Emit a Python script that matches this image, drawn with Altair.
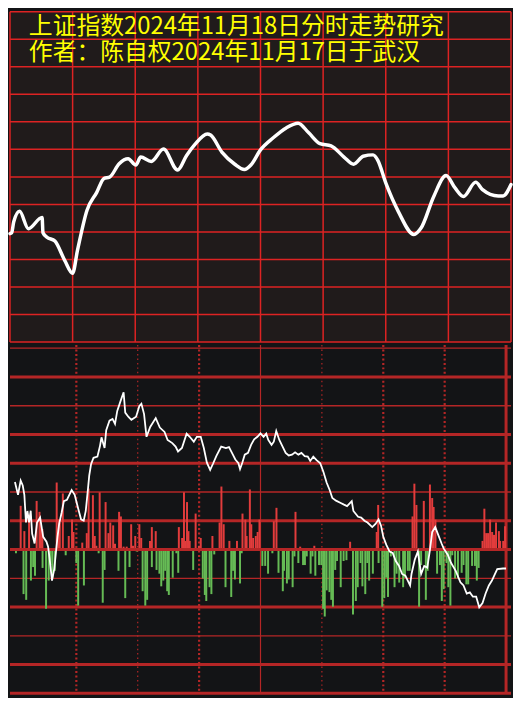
import altair as alt
import pandas as pd

TITLE_1 = "上证指数2024年11月18日分时走势研究"
TITLE_2 = "作者：陈自权2024年11月17日于武汉"

# ---- upper panel: index curve (minute of session, level in grid units*10)
top_minute = [0, 0.8, 1.8, 4.6, 8.8, 15.4, 15.8, 17.7, 21.5, 26.2, 30, 32.3, 36.9, 41.5, 45.1,
              47.7, 52.3, 56.6, 60.3, 62.6, 67.7, 73.5, 80.3, 84.6, 88.5, 94.5, 96.1, 101.5,
              107.7, 112.3, 115.4, 120, 126.1, 132.3, 138, 143.1, 148.5, 153.8, 160, 164.6,
              169.2, 173.9, 176.2, 180, 186.1, 193.5, 196.9, 203.1, 208.9, 213.1, 217.2,
              223.1, 226.2, 233.9, 236.2, 240]
top_level = [39.4, 39.7, 43.7, 47.5, 41.2, 45.3, 39.7, 38.1, 36.7, 29.7, 25.0, 33.2, 47.9, 54.3,
             59.5, 59.9, 64.8, 66.6, 64.3, 67.2, 65.6, 70.1, 62.5, 67.8, 71.7, 75.6, 75.2, 69.0,
             64.6, 62.7, 64.3, 69.8, 74.2, 77.8, 79.5, 76.0, 72.1, 71.3, 67.2, 64.6, 67.5, 68.0,
             66.0, 57.8, 47.3, 39.1, 41.4, 53.1, 60.5, 56.1, 52.9, 58.1, 55.5, 53.1, 53.1, 57.2]

# ---- lower panel: white indicator line
sub_minute = [0, 1.5, 2.8, 3.8, 4.6, 5.4, 6.1, 6.9, 7.7, 8.4,
              9.6, 10.8, 12.3, 13.8, 15.4, 16.2, 16.9, 18.1, 19.2, 20.0,
              20.8, 21.6, 22.8, 23.9, 25.4, 27.7, 29.2, 30.8, 32.3, 33.6,
              34.6, 35.7, 36.3, 37.2, 38.4, 40.3, 41.5, 42.3, 43.8, 44.6,
              46.2, 47.7, 48.9, 50.0, 51.6, 53.1, 53.9, 55.4, 56.9, 59.2,
              60.8, 61.8, 63.1, 64.3, 66.1, 68.8, 70.8, 73.1, 74.6, 76.9,
              78.5, 79.7, 81.6, 83.9, 85.4, 87.4, 88.9, 90.8, 92.3, 93.8,
              95.4, 96.9, 98.4, 100.8, 103.1, 104.6, 106.5, 107.7, 109.2, 110.0,
              111.1, 112.3, 113.9, 115.4, 116.9, 118.5, 120.0, 121.5, 122.8, 123.8,
              125.4, 126.5, 127.7, 129.2, 130.8, 132.3, 133.8, 135.4, 136.9, 138.5,
              140.0, 141.6, 143.1, 144.3, 145.8, 147.4, 149.2, 150.8, 152.3, 153.8,
              155.1, 156.9, 159.2, 160.8, 162.3, 164.6, 165.4, 167.7, 169.2, 170.8,
              172.3, 174.6, 176.2, 177.7, 178.9, 180.0, 181.5, 183.1, 184.6, 186.1,
              187.7, 189.2, 190.8, 193.1, 193.8, 195.4, 196.9, 198.5, 200.0, 201.5,
              202.8, 203.9, 205.4, 206.9, 208.5, 209.5, 211.5, 213.1, 215.4, 217.7,
              219.2, 220.8, 222.3, 223.8, 225.4, 226.9, 228.5, 230.0, 231.6, 233.1,
              234.6, 235.7, 238.5, 240.0]
sub_value = [23.5, 19.0, 24.0, 22.3, 19.0, 9.4, 13.4, 9.4, 13.5, 5.5,
             2.1, 9.4, 11.1, 4.4, 2.7, 1.0, -2.9, -10.8, -6.8, -1.2,
             4.4, 8.9, 12.8, 16.8, 17.3, 20.7, 19.0, 14.5, 10.5, 10.0,
             13.4, 21.2, 25.7, 29.7, 31.9, 32.3, 35.8, 39.0, 35.3, 41.5,
             44.8, 45.4, 43.7, 48.2, 51.6, 54.7, 47.6, 46.2, 45.1, 46.2,
             49.9, 50.7, 47.1, 39.2, 42.6, 45.7, 42.4, 40.9, 38.1, 37.0,
             35.8, 34.1, 35.3, 40.3, 39.2, 37.5, 39.2, 39.2, 35.3, 30.2,
             27.7, 30.0, 32.5, 35.8, 35.3, 35.6, 33.0, 31.3, 30.0, 28.0,
             30.2, 33.0, 33.6, 36.4, 38.3, 39.2, 40.4, 39.2, 40.3, 38.1,
             36.4, 37.5, 41.2, 38.1, 35.8, 33.6, 32.7, 33.0, 33.8, 33.0,
             33.6, 32.5, 32.3, 30.8, 32.3, 31.1, 30.0, 26.9, 23.3, 20.7,
             17.9, 17.0, 16.2, 15.6, 15.1, 16.8, 13.4, 11.4, 11.1, 10.0,
             9.4, 7.8, 8.9, 10.5, 8.3, 4.4, 1.6, -0.7, -1.2, -4.0,
             -5.7, -8.5, -9.1, -12.5, -8.5, -3.5, -0.7, -8.5, -5.7, -6.3,
             -0.1, 6.1, 7.8, 5.0, 2.1, 0.4, -1.8, -4.6, -7.4, -11.4,
             -12.5, -15.3, -14.9, -16.4, -16.4, -20.1, -18.6, -15.3, -12.5, -10.8,
             -8.5, -6.8, -6.6, -6.6]

# ---- lower panel: red (up) and green (down) bars
up_minute = [2.8, 4.6, 6.9, 10.6, 12.0, 12.7, 13.4, 20.4, 21.4, 21.9,
             23.4, 26.3, 27.9, 28.6, 32.9, 35.1, 36.0, 38.1, 39.0, 39.8,
             41.4, 44.3, 45.7, 46.6, 48.0, 48.9, 50.9, 51.8, 53.1, 54.6,
             56.8, 57.7, 58.8, 60.8, 61.7, 66.0, 66.9, 68.8, 80.1, 81.7,
             82.6, 83.2, 84.1, 84.8, 85.4, 88.3, 89.9, 90.8, 96.5, 100.0,
             100.9, 102.0, 104.8, 108.5, 111.2, 112.6, 113.2, 114.8, 115.5, 116.4,
             117.7, 118.6, 119.5, 126.5, 127.8, 137.1, 139.4, 146.3, 163.8, 176.8,
             177.5, 194.3, 195.2, 196.2, 199.8, 202.8, 203.9, 204.6, 205.5, 228.5,
             229.4, 230.3, 231.2, 232.2, 233.2, 234.1, 235.1, 236.5, 237.1, 238.6,
             239.5]
up_value = [15.2, 6.4, 12.1, 16.9, 13.1, 9.4, 7.1, 23.3, 10.4, 9.4,
            19.5, 4.7, 10.4, 6.1, 2.4, 5.7, 21.2, 18.9, 4.7, 1.3,
            19.9, 16.5, 5.7, 9.4, 8.4, 2.0, 13.1, 11.5, 1.0, 1.0,
            8.8, 1.3, 4.7, 8.8, 4.0, 3.0, 7.8, 6.4, 7.8, 4.0,
            19.9, 3.0, 16.5, 6.4, 3.0, 12.5, 1.3, 4.0, 4.7, 9.4,
            21.9, 8.8, 3.0, 3.0, 12.5, 10.4, 4.7, 20.9, 8.8, 4.0,
            4.7, 6.1, 10.4, 9.8, 14.5, 13.1, 1.0, 1.3, 2.7, 6.1,
            15.5, 11.5, 22.9, 15.5, 16.9, 22.6, 17.9, 14.8, 10.4, 3.0,
            14.2, 5.7, 5.7, 10.4, 6.1, 5.1, 9.4, 6.4, 3.0, 3.0,
            8.1]
down_minute = [0.5, 4.2, 5.5, 7.8, 8.9, 9.8, 13.5, 15.2, 16.5, 17.4,
               18.3, 19.5, 24.8, 30.0, 30.9, 33.7, 40.9, 42.9, 43.8, 50.6,
               53.9, 56.0, 59.5, 62.4, 63.7, 64.6, 66.9, 69.2, 70.6, 71.5,
               72.5, 73.4, 74.4, 75.2, 77.1, 78.9, 79.8, 87.1, 91.8, 92.8,
               93.5, 95.1, 96.0, 97.4, 102.9, 105.7, 106.6, 107.5, 110.0, 110.8,
               120.9, 122.3, 123.7, 125.8, 128.8, 130.9, 131.5, 132.9, 133.8, 135.7,
               136.6, 138.5, 140.8, 141.7, 142.6, 144.5, 145.4, 146.8, 148.6, 149.7,
               150.6, 151.4, 152.3, 153.7, 154.6, 155.4, 156.5, 157.4, 159.2, 160.6,
               162.0, 165.2, 166.6, 167.5, 168.9, 169.8, 171.2, 172.2, 173.1, 174.9,
               177.7, 179.5, 180.5, 181.4, 182.3, 183.7, 185.5, 186.5, 187.8, 189.7,
               190.6, 192.0, 192.9, 197.5, 198.5, 200.8, 201.7, 206.3, 207.7, 208.6,
               209.5, 210.9, 211.8, 212.8, 213.7, 215.1, 216.5, 218.3, 219.2, 220.6,
               221.5, 223.4, 224.8, 225.7, 226.6]
down_value = [-1.3, -15.5, -17.5, -10.8, -6.1, -9.1, -6.4, -20.6, -10.8, -5.4,
              -9.8, -7.4, -2.0, -4.7, -19.5, -12.5, -1.3, -18.5, -7.1, -7.4,
              -16.9, -6.1, -0.7, -14.5, -19.5, -17.5, -6.1, -7.1, -8.4, -12.8,
              -10.8, -7.4, -14.5, -15.8, -9.8, -1.3, -8.1, -7.1, -10.1, -15.8,
              -17.9, -13.1, -15.5, -1.7, -13.1, -16.5, -7.4, -10.4, -11.8, -1.3,
              -5.7, -5.7, -8.4, -1.3, -8.1, -14.5, -7.4, -11.8, -10.4, -13.1,
              -2.4, -4.7, -5.4, -5.4, -2.4, -8.4, -2.4, -9.1, -5.4, -5.4,
              -20.6, -23.3, -14.2, -14.8, -17.5, -19.9, -7.1, -4.0, -13.1, -4.0,
              -3.7, -22.6, -17.9, -13.1, -4.7, -12.8, -15.5, -4.7, -10.8, -8.4,
              -4.7, -19.9, -16.9, -9.8, -16.5, -2.4, -13.1, -8.4, -11.5, -13.1,
              -9.8, -7.4, -7.4, -19.9, -5.4, -17.5, -7.4, -8.4, -5.4, -17.9,
              -13.8, -4.7, -13.1, -19.5, -2.0, -10.1, -10.1, -8.1, -5.4, -12.1,
              -12.1, -5.7, -5.7, -10.8, -6.4]

# ---- grid levels
TIME_GRID = [0, 30, 60, 90, 120, 150, 180, 210, 240]
TOP_GRID = [0, 10, 20, 30, 40, 50, 60, 70, 80, 90, 100, 110, 120]
BOT_THICK = [60, 40, 30, 10, -20, -40, -50]
BOT_ZERO = [0]
BOT_THIN = [70, 50, 20, -10, -30]
DOT_BOLD = [30, 90, 180, 210]
DOT_FINE = [60, 150]
BOT_SOLID = [120]
BOT_EDGE = [240]

TOP_BG = "#201b1b"
BOT_BG = "#131416"
RED_TOP = "#dd2323"
RED_BOT = "#b52626"
BAR_UP = "#e23c3c"
BAR_DN = "#66bb55"
YELLOW = "#ffff00"
CJK = "Noto Sans CJK SC"

W = 505
H_TOP = 333
H_BOT = 351

xs = alt.Scale(domain=[0, 240], nice=False, zero=False)
ys_top = alt.Scale(domain=[0, 120], nice=False, zero=False)
ys_bot = alt.Scale(domain=[-50, 71.1], nice=False, zero=False)


def xenc(field="minute"):
    return alt.X(f"{field}:Q", scale=xs, axis=None)


top_df = pd.DataFrame({"minute": top_minute, "level": top_level})

hgrid_top = alt.Chart(pd.DataFrame({"level": TOP_GRID})).mark_rule(
    color=RED_TOP, strokeWidth=1.5
).encode(y=alt.Y("level:Q", scale=ys_top, axis=None))

vgrid_top = alt.Chart(pd.DataFrame({"minute": TIME_GRID})).mark_rule(
    color=RED_TOP, strokeWidth=1.5
).encode(x=xenc())

line_top = alt.Chart(top_df).mark_line(
    color="white", strokeWidth=3.5, interpolate="monotone", strokeJoin="round", strokeCap="round"
).encode(x=xenc(), y=alt.Y("level:Q", scale=ys_top, axis=None))

# both title rows in one two-line text block
titles = alt.Chart(pd.DataFrame({"t": [TITLE_1 + "\n" + TITLE_2]})).mark_text(
    font=CJK, fontSize=24, color=YELLOW, align="left", baseline="top",
    lineBreak="\n", lineHeight=26.5
).encode(x=alt.value(19), y=alt.value(3), text="t:N")

top = alt.layer(hgrid_top, vgrid_top, line_top, titles).properties(
    width=W, height=H_TOP, view=alt.ViewBackground(fill=TOP_BG, stroke=None)
)

# lower panel
bars_df = pd.concat([
    pd.DataFrame({"minute": up_minute, "value": up_value}),
    pd.DataFrame({"minute": down_minute, "value": down_value}),
], ignore_index=True)
sub_df = pd.DataFrame({"minute": sub_minute, "value": sub_value})


def hrule(levels, width):
    return alt.Chart(pd.DataFrame({"value": levels})).mark_rule(
        color=RED_BOT, strokeWidth=width
    ).encode(y=alt.Y("value:Q", scale=ys_bot, axis=None))


def vrule(levels, width, dash=None):
    kw = dict(color=RED_BOT, strokeWidth=width)
    if dash:
        kw["strokeDash"] = dash
    return alt.Chart(pd.DataFrame({"minute": levels})).mark_rule(**kw).encode(x=xenc())


bars = alt.Chart(bars_df).mark_bar(width=2).encode(
    x=xenc(),
    y=alt.Y("value:Q", scale=ys_bot, axis=None, stack=None),
    y2=alt.datum(0),
    color=alt.condition(alt.datum.value > 0, alt.value(BAR_UP), alt.value(BAR_DN)),
)

sub_line = alt.Chart(sub_df).mark_line(color="white", strokeWidth=1.8).encode(
    x=xenc(), y=alt.Y("value:Q", scale=ys_bot, axis=None)
)

bottom = alt.layer(
    hrule(BOT_THIN, 1.3),
    hrule(BOT_THICK, 3),
    vrule(DOT_BOLD, 2.2, [2, 2.5]),
    vrule(DOT_FINE, 1.2, [1.5, 3]),
    vrule(BOT_SOLID, 1.2),
    vrule(BOT_EDGE, 3),
    bars,
    hrule(BOT_ZERO, 3.2),
    sub_line,
).properties(width=W, height=H_BOT, view=alt.ViewBackground(fill=BOT_BG, stroke=None))

chart = alt.vconcat(top, bottom, spacing=0).properties(
    padding=0, background=BOT_BG
).configure_view(stroke=None)

chart.save("out.html", embed_options={"renderer": "svg", "actions": False})
